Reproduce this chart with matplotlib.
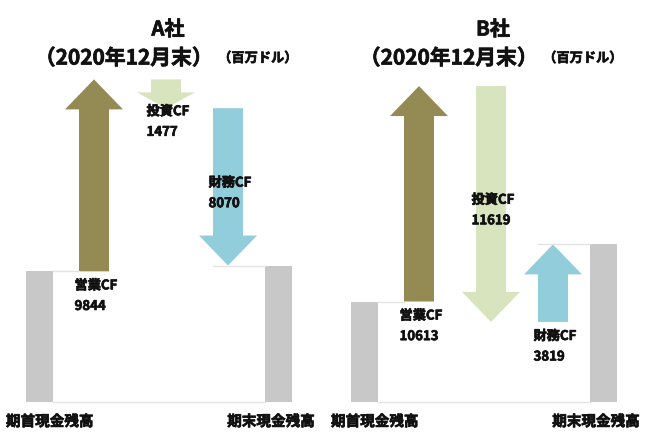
import numpy as np
import matplotlib.pyplot as plt
import matplotlib.patheffects as pe
from matplotlib.patches import Polygon, Rectangle

plt.rcParams['font.family'] = ['Noto Sans CJK JP', 'DejaVu Sans']

# データ（百万ドル）
companies = ['A社', 'B社']
cf_names = ['営業CF', '投資CF', '財務CF']
begin_cash = [6700, 4950]
cf_values = [[9844, -1477, -8070],
             [10613, -11619, 3819]]
period = '（2020年12月末）'
unit = '（百万ドル）'
start_label = '期首現金残高'
end_label = '期末現金残高'

cf_colors = ['#948a54', '#d7e4bd', '#92cddc']
bar_color = '#c8c8c8'
line_color = '#e4e4e4'
txt_color = '#111111'

# レイアウト（ピクセル基準）
W, H = 650, 448
ks = [0.0195, 0.0203]     # px / 百万ドル（パネルごと）
base_px = 402             # y=0 の位置
xs = [39, 94, 166, 228, 278]
bar_w = 27
shaft_w = 30
head_w = 58
wt = 'bold'
# 太字をもう少し濃く
heavy = [pe.withStroke(linewidth=0.5, foreground=txt_color)]

fig = plt.figure(figsize=(W / 100, H / 100), dpi=100)


def arrow(ax, x, y0, y1, color, k):
    d = np.sign(y1 - y0)
    L = abs(y1 - y0)
    hl = min(30 / k, 0.55 * L)
    yb = y1 - d * hl
    pts = [(x - shaft_w / 2, y0), (x + shaft_w / 2, y0), (x + shaft_w / 2, yb),
           (x + head_w / 2, yb), (x, y1), (x - head_w / 2, yb),
           (x - shaft_w / 2, yb)]
    ax.add_patch(Polygon(pts, closed=True, facecolor=color, edgecolor='none'))


for i, comp in enumerate(companies):
    k = ks[i]
    ax = fig.add_axes([i * 0.5, 0, 0.5, 1])
    ax.set_xlim(0, 325)
    ax.set_ylim(-(H - base_px) / k, base_px / k)
    ax.axis('off')

    b = begin_cash[i]
    levels = b + np.concatenate([[0], np.cumsum(cf_values[i])])
    e = levels[-1]

    # 期首・期末の棒
    ax.add_patch(Rectangle((xs[0] - bar_w / 2, 0), bar_w, b, facecolor=bar_color, edgecolor='none'))
    ax.add_patch(Rectangle((xs[4] - bar_w / 2, 0), bar_w, e, facecolor=bar_color, edgecolor='none'))

    # うすい枠線
    ax.plot([xs[0] + bar_w / 2, xs[4] - bar_w / 2], [0, 0], color=line_color, lw=1)
    ax.plot([xs[0] + bar_w / 2, xs[1] - shaft_w / 2], [b, b], color=line_color, lw=1)
    ax.plot([xs[3] - shaft_w / 2, xs[4] - bar_w / 2], [e, e], color=line_color, lw=1)

    # CF矢印とラベル
    for j in range(3):
        y0, y1 = levels[j], levels[j + 1]
        x = xs[j + 1]
        arrow(ax, x, y0, y1, cf_colors[j], k)
        v = cf_values[i][j]
        txt = f'{cf_names[j]}\n{abs(v)}'
        if v > 0:
            ty, va = y0 - 7 / k, 'top'
        elif abs(v) < 3000:
            ty, va = y1 + 4 / k, 'top'
        else:
            ty, va = (y0 + y1) / 2 - 6 / k, 'center'
        ax.text(x + 2, ty, txt, ha='center', va=va, multialignment='left',
                fontsize=9.5, fontweight=wt, linespacing=1.6, color=txt_color,
                path_effects=heavy)

    # 下のラベル
    ly = -(421 - base_px) / k
    ax.text(6, ly, start_label, ha='left', va='center', fontsize=10.5, fontweight=wt,
            color=txt_color, path_effects=heavy)
    ax.text(315, ly, end_label, ha='right', va='center', fontsize=10.5, fontweight=wt,
            color=txt_color, path_effects=heavy)

    # タイトル
    ox = i * 325
    fig.text((ox + 168) / W, 1 - 29 / H, comp, ha='center', va='center',
             fontsize=14.5, fontweight=wt, color=txt_color, path_effects=heavy)
    fig.text((ox + 124) / W, 1 - 58 / H, period, ha='center', va='center',
             fontsize=15, fontweight=wt, color=txt_color, path_effects=heavy)
    fig.text((ox + 258) / W, 1 - 58 / H, unit, ha='center', va='center',
             fontsize=9.5, fontweight=wt, color=txt_color, path_effects=heavy)

fig.savefig('out.png', dpi=100)
